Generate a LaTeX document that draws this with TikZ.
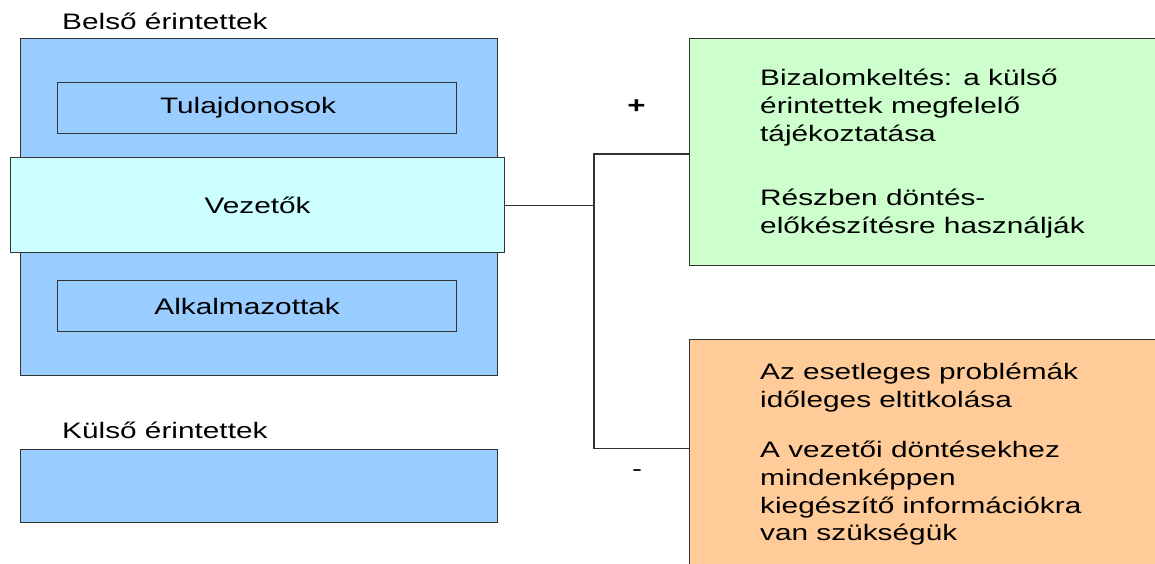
\documentclass[tikz,border=0pt]{standalone}
\usepackage{fontspec}
\setmainfont{Liberation Sans}[FakeStretch=1.33]
\definecolor{blueA}{HTML}{99CCFF}
\definecolor{cyanA}{HTML}{CCFFFF}
\definecolor{greenA}{HTML}{CCFFCC}
\definecolor{orangeA}{HTML}{FFCC99}
\definecolor{edge}{HTML}{333333}
\begin{document}
\begin{tikzpicture}[x=1pt,y=-1pt,
  bx/.style={draw=edge, line width=1.2pt, inner sep=0pt, anchor=north west,
             font=\fontsize{22.4}{27.8}\selectfont},
  conn/.style={draw=edge, line width=1.2pt},
  txt/.style={inner sep=0pt, font=\fontsize{22.4}{27.8}\selectfont, align=left, anchor=base west},
]
\clip (0,0) rectangle (1155,563);
\fill[white] (0,0) rectangle (1155,563);
% internal stakeholders
\node[txt] (lbelso) at (62,29) {Belső érintettek};
\node[bx, fill=blueA, minimum width=477pt, minimum height=337pt] (belso) at (20,38) {};
\node[bx, fill=blueA, minimum width=399pt, minimum height=51pt] (tul) at (57,82) {Tulajdonosok\hspace*{18pt}};
\node[bx, fill=blueA, minimum width=399pt, minimum height=51pt] (alk) at (57,280) {Alkalmazottak\hspace*{20pt}};
\node[bx, fill=cyanA, minimum width=494pt, minimum height=95pt] (vez) at (10,157) {Vezetők};
% external stakeholders
\node[txt] (lkulso) at (62,438) {Külső érintettek};
\node[bx, fill=blueA, minimum width=477pt, minimum height=73pt] (kulso) at (20,449) {};
% right boxes
\node[bx, fill=greenA, minimum width=500pt, minimum height=227pt] (green) at (689,38) {};
\node[bx, fill=orangeA, minimum width=500pt, minimum height=260pt] (orange) at (689,339) {};
% connectors
\coordinate (jt) at (594,154);
\coordinate (jb) at (594,448.6);
\draw[conn] (vez.east) -- (vez.east -| jt);
\draw[conn] (green.west |- jt) -- (jt) -- (jb) -- (orange.west |- jb);
% signs
\node[inner sep=0pt, font=\fontsize{23.5}{27.8}\selectfont\bfseries] (plus) at (636.5,107) {+};
\node[inner sep=0pt, font=\fontsize{22.4}{27.8}\selectfont] (minus) at (637,472.7) {-};
% texts (base anchor = baseline of last line)
\node[txt] (gtext) at (760,233.6) {Bizalomkeltés: a külső\\érintettek megfelelő\\tájékoztatása\\[36.5pt]Részben döntés-\\előkészítésre használják};
\node[txt] (otext) at (760,540.8) {Az esetleges problémák\\időleges eltitkolása\\[22.4pt]A vezetői döntésekhez\\mindenképpen\\kiegészítő információkra\\van szükségük};
\end{tikzpicture}
\end{document}
